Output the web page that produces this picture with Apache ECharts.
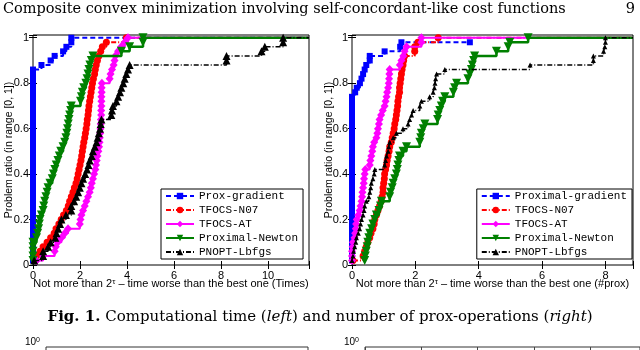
<!DOCTYPE html>
<html>
<head>
<meta charset="utf-8">
<title>Performance profiles</title>
<script src="https://cdn.jsdelivr.net/npm/echarts@6/dist/echarts.min.js"></script>
<style>
  html, body { margin: 0; padding: 0; background: #fff; }
  #chart { width: 640px; height: 350px; }
</style>
</head>
<body>
<div id="chart"></div>
<script>
// legend names
const leftNames = ['Prox-gradient', 'TFOCS-N07', 'TFOCS-AT', 'Proximal-Newton', 'PNOPT-Lbfgs'];
const rightNames = ['Proximal-gradient', 'TFOCS-N07', 'TFOCS-AT', 'Proximal-Newton', 'PNOPT-Lbfgs'];

// axis ranges / ticks
const xMaxLeft = 11.74;
const xMaxRight = 8.87;
const yMax = 1.012;
const xTickStep = 2;
const yTickStep = 0.2;

// left plot: computational time, [tau, ratio]
const leftProxGrad = [
  [0,0.02],[0,0.04],[0,0.06],[0,0.08],[0,0.10],[0,0.12],[0,0.14],[0,0.16],[0,0.18],[0,0.20],
  [0,0.22],[0,0.24],[0,0.26],[0,0.28],[0,0.30],[0,0.32],[0,0.34],[0,0.36],[0,0.38],[0,0.40],
  [0,0.42],[0,0.44],[0,0.46],[0,0.48],[0,0.50],[0,0.52],[0,0.54],[0,0.56],[0,0.58],[0,0.60],
  [0,0.62],[0,0.64],[0,0.66],[0,0.68],[0,0.70],[0,0.72],[0,0.74],[0,0.76],[0,0.78],[0,0.80],
  [0,0.82],[0,0.84],[0,0.86],
  [0.36,0.88],[0.75,0.90],[0.92,0.92],[1.28,0.94],[1.42,0.96],[1.63,0.98],[1.63,1.00]
];
const leftN07 = [
  [0.1,0.02],[0.15,0.04],[0.3,0.06],[0.43,0.08],[0.6,0.10],[0.75,0.12],[0.9,0.14],[0.98,0.16],[1.1,0.18],[1.2,0.20],
  [1.3,0.22],[1.42,0.24],[1.5,0.26],[1.56,0.28],[1.63,0.30],[1.7,0.32],[1.76,0.34],[1.83,0.36],[1.88,0.38],[1.92,0.40],
  [1.96,0.42],[2.0,0.44],[2.04,0.46],[2.07,0.48],[2.1,0.50],[2.13,0.52],[2.16,0.54],[2.2,0.56],[2.23,0.58],[2.26,0.60],
  [2.29,0.62],[2.31,0.64],[2.34,0.66],[2.36,0.68],[2.38,0.70],[2.41,0.72],[2.44,0.74],[2.47,0.76],[2.5,0.78],[2.53,0.80],
  [2.57,0.82],[2.62,0.84],[2.65,0.86],[2.69,0.88],[2.74,0.90],[2.8,0.92],[2.88,0.94],[2.95,0.96],[3.12,0.98],[3.97,1.00]
];
const leftAT = [
  [0.15,0.02],[0.43,0.04],[0.92,0.06],[0.97,0.08],[1.05,0.10],[1.21,0.12],[1.35,0.14],[1.49,0.16],[1.99,0.18],[2.02,0.20],
  [2.06,0.22],[2.13,0.24],[2.2,0.26],[2.27,0.28],[2.34,0.30],[2.41,0.32],[2.46,0.34],[2.5,0.36],[2.55,0.38],[2.6,0.40],
  [2.65,0.42],[2.68,0.44],[2.71,0.46],[2.74,0.48],[2.78,0.50],[2.81,0.52],[2.83,0.54],[2.84,0.56],[2.86,0.58],[2.87,0.60],
  [2.88,0.62],[2.89,0.64],[2.9,0.66],[2.9,0.68],[2.91,0.70],[2.91,0.72],[2.91,0.74],[2.92,0.76],[2.92,0.78],[2.93,0.80],
  [3.26,0.82],[3.3,0.84],[3.36,0.86],[3.43,0.88],[3.47,0.90],[3.5,0.92],[3.62,0.94],[3.75,0.96],[3.9,0.98],[4.04,1.00]
];
const leftNewton = [
  [0,0.02],[0,0.04],[0,0.06],[0,0.08],[0,0.10],[0.15,0.12],[0.2,0.14],[0.24,0.16],[0.27,0.18],[0.3,0.20],
  [0.36,0.22],[0.43,0.24],[0.46,0.26],[0.5,0.28],[0.55,0.30],[0.6,0.32],[0.64,0.34],[0.72,0.36],[0.82,0.38],[0.87,0.40],
  [0.93,0.42],[0.99,0.44],[1.06,0.46],[1.12,0.48],[1.18,0.50],[1.28,0.52],[1.35,0.54],[1.4,0.56],[1.44,0.58],[1.47,0.60],
  [1.5,0.62],[1.53,0.64],[1.56,0.66],[1.6,0.68],[1.63,0.70],[2.02,0.72],[2.06,0.74],[2.1,0.76],[2.16,0.78],[2.25,0.80],
  [2.3,0.82],[2.34,0.84],[2.38,0.86],[2.42,0.88],[2.48,0.90],[2.55,0.92],[3.76,0.94],[4.11,0.96],[4.68,0.98],[4.68,1.00]
];
const leftLbfgs = [
  [0.05,0.02],[0.43,0.04],[0.43,0.06],[0.64,0.08],[0.75,0.10],[0.95,0.12],[1.0,0.14],[1.07,0.16],[1.15,0.18],[1.21,0.20],
  [1.4,0.22],[1.63,0.24],[1.63,0.26],[1.75,0.28],[1.84,0.30],[1.92,0.32],[1.99,0.34],[2.06,0.36],[2.13,0.38],[2.22,0.40],
  [2.3,0.42],[2.36,0.44],[2.41,0.46],[2.5,0.48],[2.55,0.50],[2.63,0.52],[2.7,0.54],[2.75,0.56],[2.8,0.58],[2.85,0.60],
  [2.88,0.62],[2.91,0.64],[3.33,0.66],[3.36,0.68],[3.4,0.70],[3.55,0.72],[3.62,0.74],[3.7,0.76],[3.76,0.78],[3.84,0.80],
  [3.9,0.82],[3.97,0.84],[4.04,0.86],[4.11,0.88],[8.23,0.90],[8.23,0.92],[9.72,0.94],[9.86,0.96],[10.64,0.98],[10.64,1.00]
];

// right plot: number of prox-operations, [tau, ratio]
const rightProxGrad = [
  [0,0.02],[0,0.04],[0,0.06],[0,0.08],[0,0.10],[0,0.12],[0,0.14],[0,0.16],[0,0.18],[0,0.20],
  [0,0.22],[0,0.24],[0,0.26],[0,0.28],[0,0.30],[0,0.32],[0,0.34],[0,0.36],[0,0.38],[0,0.40],
  [0,0.42],[0,0.44],[0,0.46],[0,0.48],[0,0.50],[0,0.52],[0,0.54],[0,0.56],[0,0.58],[0,0.60],
  [0,0.62],[0,0.64],[0,0.66],[0,0.68],[0,0.70],[0,0.72],[0,0.74],
  [0.10,0.76],[0.15,0.78],[0.25,0.80],[0.30,0.82],[0.35,0.84],[0.40,0.86],[0.45,0.88],[0.56,0.90],[0.56,0.92],
  [1.03,0.94],[1.52,0.96],[1.56,0.98],[3.72,0.98]
];
const rightN07 = [
  [0.03,0.02],[0.35,0.04],[0.4,0.06],[0.45,0.08],[0.5,0.10],[0.56,0.12],[0.6,0.14],[0.66,0.16],[0.7,0.18],[0.72,0.20],
  [0.77,0.22],[0.82,0.24],[0.87,0.26],[0.92,0.28],[0.95,0.30],[0.98,0.32],[0.98,0.34],[1.0,0.36],[1.02,0.38],[1.03,0.40],
  [1.06,0.42],[1.09,0.44],[1.11,0.46],[1.14,0.48],[1.17,0.50],[1.19,0.52],[1.24,0.54],[1.27,0.56],[1.3,0.58],[1.33,0.60],
  [1.35,0.62],[1.38,0.64],[1.4,0.66],[1.42,0.68],[1.44,0.70],[1.45,0.72],[1.47,0.74],[1.5,0.76],[1.5,0.78],[1.52,0.80],
  [1.54,0.82],[1.56,0.84],[1.58,0.86],[1.61,0.88],[1.63,0.90],[1.66,0.92],[1.98,0.94],[1.98,0.96],[2.08,0.98],[2.72,1.00]
];
const rightAT = [
  [0,0.02],[0,0.04],[0,0.06],[0.02,0.08],[0.03,0.10],[0.08,0.12],[0.10,0.14],[0.12,0.16],[0.13,0.18],[0.15,0.20],
  [0.2,0.22],[0.24,0.24],[0.27,0.26],[0.3,0.28],[0.32,0.30],[0.33,0.32],[0.35,0.34],[0.37,0.36],[0.38,0.38],[0.4,0.40],
  [0.42,0.42],[0.56,0.44],[0.58,0.46],[0.61,0.48],[0.64,0.50],[0.66,0.52],[0.7,0.54],[0.77,0.56],[0.8,0.58],[0.82,0.60],
  [0.85,0.62],[0.87,0.64],[0.92,0.66],[0.97,0.68],[1.03,0.70],[1.06,0.72],[1.09,0.74],[1.11,0.76],[1.14,0.78],[1.16,0.80],
  [1.17,0.82],[1.18,0.84],[1.19,0.86],[1.51,0.88],[1.56,0.90],[1.62,0.92],[1.66,0.94],[1.72,0.96],[2.19,0.98],[2.19,1.00]
];
const rightNewton = [
  [0.4,0.02],[0.42,0.04],[0.45,0.06],[0.48,0.08],[0.5,0.10],[0.53,0.12],[0.56,0.14],[0.62,0.16],[0.66,0.18],[0.72,0.20],
  [0.77,0.22],[0.85,0.24],[0.9,0.26],[0.93,0.28],[1.19,0.30],[1.22,0.32],[1.27,0.34],[1.3,0.36],[1.35,0.38],[1.4,0.40],
  [1.43,0.42],[1.45,0.44],[1.48,0.46],[1.5,0.48],[1.61,0.50],[1.72,0.52],[2.14,0.54],[2.17,0.56],[2.19,0.58],[2.25,0.60],
  [2.3,0.62],[2.7,0.64],[2.72,0.66],[2.77,0.68],[2.82,0.70],[2.86,0.72],[2.93,0.74],[3.2,0.76],[3.24,0.78],[3.3,0.80],
  [3.66,0.82],[3.72,0.84],[3.77,0.86],[3.8,0.88],[3.84,0.90],[3.87,0.92],[4.56,0.94],[4.93,0.96],[4.98,0.98],[5.56,1.00]
];
const rightLbfgs = [
  [0,0.02],[0.03,0.04],[0.05,0.06],[0.085,0.08],[0.12,0.10],[0.14,0.12],[0.2,0.14],[0.24,0.16],[0.27,0.18],[0.3,0.20],
  [0.35,0.22],[0.38,0.24],[0.4,0.26],[0.45,0.28],[0.53,0.30],[0.56,0.32],[0.59,0.34],[0.61,0.36],[0.66,0.38],[0.7,0.40],
  [0.72,0.42],[1.03,0.44],[1.06,0.46],[1.09,0.48],[1.14,0.50],[1.16,0.52],[1.19,0.54],[1.3,0.56],[1.4,0.58],[1.61,0.60],
  [1.77,0.62],[1.82,0.64],[1.88,0.66],[1.93,0.68],[2.14,0.70],[2.19,0.72],[2.45,0.74],[2.56,0.76],[2.6,0.78],[2.62,0.80],
  [2.64,0.82],[2.67,0.84],[2.93,0.86],[5.62,0.88],[7.62,0.90],[7.62,0.92],[7.94,0.94],[7.98,0.96],[8.0,0.98],[8.0,1.00]
];

const leftSets = [leftProxGrad, leftN07, leftAT, leftNewton, leftLbfgs];
const rightSets = [rightProxGrad, rightN07, rightAT, rightNewton, rightLbfgs];

// look of each solver (same order as the names)
const looks = [
  { color: '#0000ff', symbol: 'rect',     size: 6, rotate: 0,   type: [5, 3],       width: 2 },
  { color: '#ff0000', symbol: 'circle',   size: 7, rotate: 0,   type: [5, 2, 1, 2], width: 2 },
  { color: '#ff00ff', symbol: 'diamond',  size: [8, 9], rotate: 0, type: 'solid',   width: 2 },
  { color: '#008000', symbol: 'triangle', size: 9, rotate: 180, type: 'solid',      width: 2.5 },
  { color: '#000000', symbol: 'triangle', size: 8, rotate: 0,   type: [5, 2, 1, 2], width: 1.5 }
];

const sans = 'Liberation Sans';
const serif = 'DejaVu Serif';

// extend the last level to the right edge (stairs run to the end of the axis)
function withTail(data, xEnd) {
  const items = data.map(p => ({ value: p }));
  if (xEnd != null) items.push({ value: [xEnd, data[data.length - 1][1]], symbol: 'none' });
  return items;
}

function makeSeries(names, sets, axisIdx, xEnd, noTail, smallLast) {
  return sets.map((d, i) => {
    const lk = looks[i];
    return {
      name: names[i],
      type: 'line',
      step: 'end',
      xAxisIndex: axisIdx,
      yAxisIndex: axisIdx,
      data: withTail(d, noTail[i] ? null : xEnd),
      symbol: lk.symbol,
      symbolSize: (smallLast && i === 4) ? 5 : lk.size,
      symbolRotate: lk.rotate,
      showAllSymbol: true,
      itemStyle: { color: lk.color },
      lineStyle: { color: lk.color, width: lk.width, type: lk.type },
      emphasis: { disabled: true },
      silent: true,
      clip: true,
      z: 2 + i
    };
  });
}

const yFmt = v => (Math.abs(v / yTickStep - Math.round(v / yTickStep)) < 1e-6 ? String(+v.toFixed(1)) : '');
const xFmt = v => (Math.abs(v / xTickStep - Math.round(v / xTickStep)) < 1e-6 ? String(Math.round(v)) : '');
const tickStyle = { inside: true, length: 4, lineStyle: { color: '#000', width: 1 } };
const xName = (unit) => 'Not more than 2{s|τ} – time worse than the best one (' + unit + ')';
const nameStyle = {
  fontFamily: sans, fontSize: 11, color: '#000',
  rich: { s: { fontFamily: sans, fontSize: 8, color: '#000', verticalAlign: 'top' } }
};

function bottomX(gi, max, unit) {
  return {
    gridIndex: gi, type: 'value', min: 0, max: max, interval: xTickStep, position: 'bottom',
    axisLine: { show: false }, axisTick: tickStyle, splitLine: { show: false },
    axisLabel: { margin: 5, fontFamily: sans, fontSize: 11, color: '#000', formatter: xFmt },
    name: xName(unit), nameLocation: 'middle', nameGap: 13, nameMoveOverlap: false,
    nameTextStyle: nameStyle
  };
}
function topX(gi, max) {
  return {
    gridIndex: gi, type: 'value', min: 0, max: max, interval: xTickStep, position: 'top',
    axisLine: { show: false }, axisTick: tickStyle, axisLabel: { show: false }, splitLine: { show: false }
  };
}
function leftY(gi, gap) {
  return {
    gridIndex: gi, type: 'value', min: 0, max: yMax, interval: yTickStep, position: 'left',
    axisLine: { show: false }, axisTick: tickStyle, splitLine: { show: false },
    axisLabel: { margin: 4, fontFamily: sans, fontSize: 11, color: '#000', formatter: yFmt },
    name: 'Problem ratio (in range [0, 1])', nameLocation: 'middle', nameGap: gap, nameMoveOverlap: false,
    nameTextStyle: { fontFamily: sans, fontSize: 10.5, color: '#000' }
  };
}
function rightY(gi) {
  return {
    gridIndex: gi, type: 'value', min: 0, max: yMax, interval: yTickStep, position: 'right',
    axisLine: { show: false }, axisTick: tickStyle, axisLabel: { show: false }, splitLine: { show: false }
  };
}
// partly visible plots of the next figure row
function stubY(gi) {
  return {
    gridIndex: gi, type: 'value', min: 0, max: 1, interval: 1, position: 'left',
    axisLine: { show: false }, axisTick: { show: false }, splitLine: { show: false },
    axisLabel: {
      margin: 6, verticalAlign: 'bottom', color: '#000',
      formatter: v => (v === 1 ? '{n|10}{e|0}' : ''),
      rich: {
        n: { fontFamily: sans, fontSize: 10, color: '#000' },
        e: { fontFamily: sans, fontSize: 7, color: '#000', verticalAlign: 'top' }
      }
    }
  };
}

const legendBase = {
  orient: 'vertical', top: 189, itemWidth: 28, itemHeight: 8, itemGap: 0,
  backgroundColor: '#fff', borderColor: '#000', borderWidth: 1, borderRadius: 0,
  selectedMode: false,
  textStyle: { fontFamily: 'Liberation Mono', fontSize: 11, lineHeight: 14, color: '#000' }
};

const chart = echarts.init(document.getElementById('chart'), null, { renderer: 'canvas' });
chart.setOption({
  animation: false,
  backgroundColor: '#fff',
  title: [
    {
      text: 'Composite convex minimization involving self-concordant-like cost functions',
      left: 3, top: 2, padding: 0,
      textStyle: { fontFamily: serif, fontSize: 14.5, fontWeight: 'normal', color: '#000' }
    },
    {
      text: '9', right: 5, top: 2, padding: 0,
      textStyle: { fontFamily: serif, fontSize: 14.5, fontWeight: 'normal', color: '#000' }
    },
    {
      text: '{b|Fig. 1.} Computational time ({i|left}) and number of prox-operations ({i|right})',
      left: 'center', top: 310, padding: 0,
      textStyle: {
        fontFamily: serif, fontSize: 15, fontWeight: 'normal', color: '#000',
        rich: {
          b: { fontFamily: serif, fontSize: 15, fontWeight: 'bold', color: '#000' },
          i: { fontFamily: serif, fontSize: 15, fontStyle: 'italic', color: '#000' }
        }
      }
    }
  ],
  grid: [
    { left: 33, top: 35, width: 276, height: 230, show: true, borderColor: '#000', borderWidth: 1, backgroundColor: 'transparent' },
    { left: 352, top: 35, width: 281, height: 230, show: true, borderColor: '#000', borderWidth: 1, backgroundColor: 'transparent' },
    { left: 46, top: 347, width: 262, height: 200, show: true, borderColor: '#333', borderWidth: 1, backgroundColor: 'transparent' },
    { left: 365, top: 347, width: 300, height: 200, show: true, borderColor: '#333', borderWidth: 1, backgroundColor: 'transparent' }
  ],
  xAxis: [
    bottomX(0, xMaxLeft, 'Times'),
    bottomX(1, xMaxRight, '#prox'),
    topX(0, xMaxLeft),
    topX(1, xMaxRight),
    { gridIndex: 2, type: 'value', min: 0, max: 1, show: false },
    {
      gridIndex: 3, type: 'value', min: 0, max: 4.88, interval: 1,
      axisLine: { show: false }, axisTick: { show: false }, axisLabel: { show: false },
      splitLine: { show: true, lineStyle: { color: '#444', width: 1 } }
    }
  ],
  yAxis: [
    leftY(0, 18.5),
    leftY(1, 17.5),
    rightY(0),
    rightY(1),
    stubY(2),
    stubY(3)
  ],
  legend: [
    Object.assign({}, legendBase, { data: leftNames, left: 161, padding: [0, 5, 0, 4] }),
    Object.assign({}, legendBase, { data: rightNames, right: 8, padding: [0, 5, 0, 4] })
  ],
  series: [].concat(
    makeSeries(leftNames, leftSets, 0, xMaxLeft, [false, false, false, false, false], false),
    makeSeries(rightNames, rightSets, 1, xMaxRight, [true, false, false, false, false], true)
  )
});
</script>
</body>
</html>
